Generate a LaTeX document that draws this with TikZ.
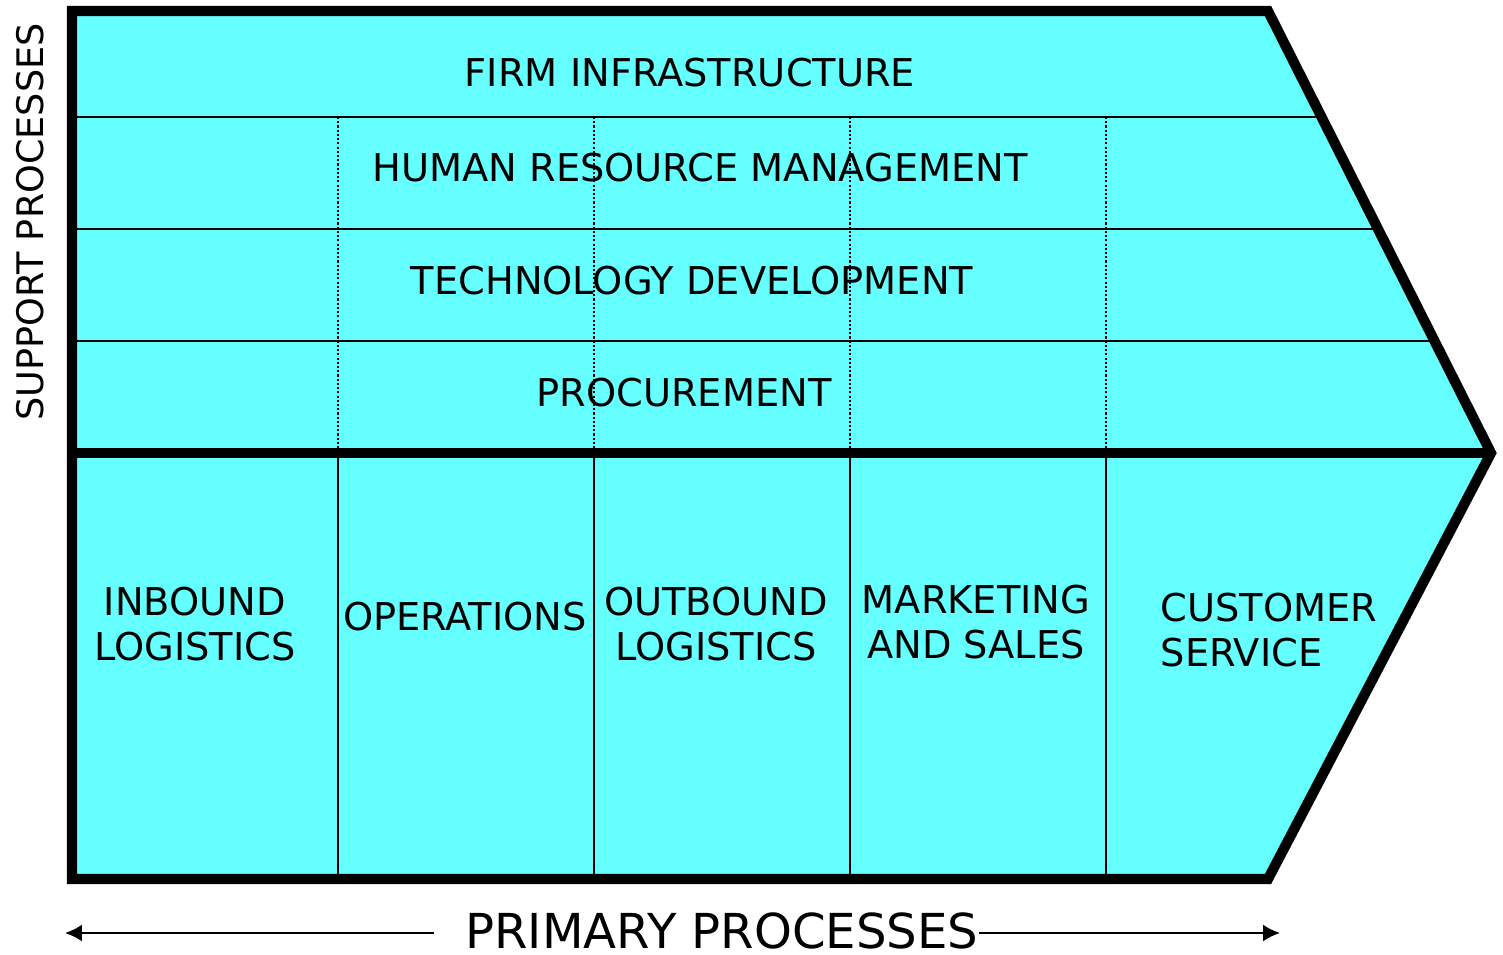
\documentclass[tikz,border=0pt]{standalone}
\usepackage{fontspec}
\setmainfont{DejaVu Sans}
\usetikzlibrary{arrows.meta}
\definecolor{chaincyan}{RGB}{102,255,255}

\begin{document}
\begin{tikzpicture}[x=0.01cm, y=-0.01cm,
	lbl/.style={font=\fontsize{10.9}{12.8}\selectfont, align=center, inner sep=0pt},
	thinline/.style={line width=0.6pt},
	dotline/.style={line width=0.8pt, dash pattern=on 0.6pt off 0.6pt},
	border/.style={line width=2.9pt}]
\useasboundingbox (0,0) rectangle (1503,955);

% body of the chain
\fill[chaincyan] (72,11) -- (1268,11) -- (1491,453) -- (1268,879) -- (72,879) -- cycle;

% rows of the support part
\foreach \y/\xr in {117/1322,229/1379,341/1435}
	\draw[thinline] (72,\y) -- (\xr,\y);

\foreach \x in {338,594,850,1106} {
	\draw[dotline] (\x,117) -- (\x,453);
	\draw[thinline] (\x,453) -- (\x,879);
	}

\draw[border] (72,11) -- (1268,11) -- (1491,453) -- (1268,879) -- (72,879) -- cycle;
\draw[border] (72,453) -- (1491,453);

% support activities
\node[lbl] (firm) at (690,73) {FIRM INFRASTRUCTURE};
\node[lbl] (hrm) at (700,168) {HUMAN RESOURCE MANAGEMENT};
\node[lbl] (tech) at (692,281) {TECHNOLOGY DEVELOPMENT};
\node[lbl] (proc) at (684,393) {PROCUREMENT};

% primary activities
\node[lbl] (inbound) at (195,624) {INBOUND\\LOGISTICS};
\node[lbl] (ops) at (465,617) {OPERATIONS};
\node[lbl] (outbound) at (716,624) {OUTBOUND\\LOGISTICS};
\node[lbl] (marketing) at (976,622) {MARKETING\\AND SALES};
\node[lbl, align=left, anchor=west] (service) at (1160,630) {CUSTOMER\\SERVICE};

\node[lbl, font=\fontsize{10.4}{12}\selectfont, rotate=90] (support) at (30,222) {SUPPORT PROCESSES};

\node[lbl, font=\fontsize{13.7}{16}\selectfont] (primary) at (722,931) {PRIMARY PROCESSES};
\coordinate (pleft) at (65,933);
\coordinate (pright) at (1280,933);
\draw[thinline, -{Latex[length=4.8pt,width=4.8pt]}] ([xshift=-0.31cm]primary.west |- pleft) -- (pleft);
\draw[thinline, -{Latex[length=4.8pt,width=4.8pt]}] (primary.east |- pright) -- (pright);

\end{tikzpicture}
\end{document}
